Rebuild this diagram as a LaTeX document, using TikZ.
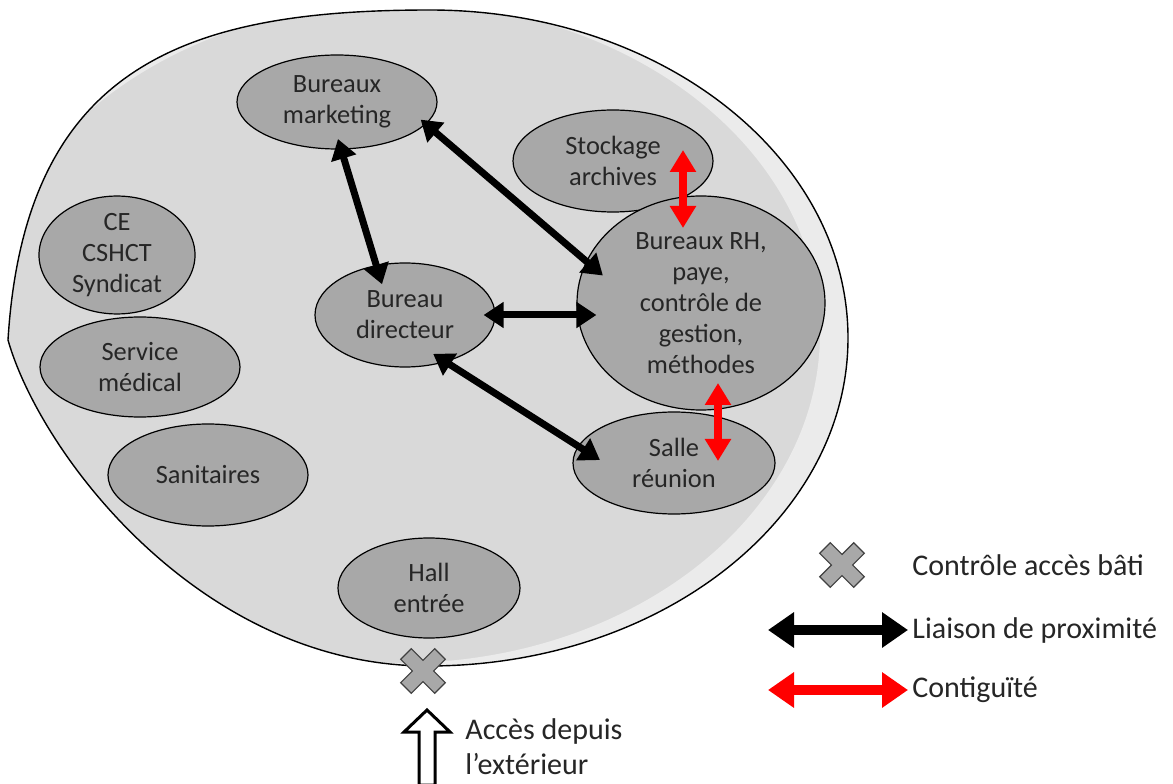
\documentclass[tikz,border=0pt]{standalone}
\usepackage{fontspec}
\setmainfont{Carlito}
\usetikzlibrary{arrows.meta,shapes.geometric}
\definecolor{colorTxt}{HTML}{262626}
\definecolor{colorOut}{HTML}{D9D9D9}
\definecolor{colorBand}{HTML}{EBEBEB}
\definecolor{colorRoom}{HTML}{A8A8A8}
\definecolor{colorLink}{HTML}{000000}
\definecolor{colorContig}{HTML}{FF0000}
\definecolor{bgColor}{HTML}{FFFFFF}

\begin{document}
\begin{tikzpicture}
\tikzset{x=0.5pt,y=0.5pt}
\tikzset{room/.style={ellipse, draw=black, line width=0.6pt, fill=colorRoom, inner sep=0pt, align=center, text=colorTxt, font=\fontsize{13.2}{15.5}\selectfont}}
\tikzset{legtxt/.style={inner sep=1pt, text=colorTxt, font=\fontsize{15}{17.5}\selectfont}}
\tikzset{prox/.style={line width=3.5pt, color=colorLink, >={Triangle[length=10pt,width=12.5pt]}, <->}}
\tikzset{contig/.style={line width=4pt, color=colorContig, >={Triangle[length=11pt,width=12.5pt]}, <->}}
\tikzset{proxleg/.style={line width=5pt, color=colorLink, >={Triangle[length=13pt,width=17pt]}, <->}}
\tikzset{contigleg/.style={line width=5pt, color=colorContig, >={Triangle[length=13pt,width=17pt]}, <->}}
\tikzset{ctrlx/.pic={\filldraw[fill=colorRoom, draw=black!75, line width=0.6pt, rotate=45] (-7.5,-24) -- (7.5,-24) -- (7.5,-7.5) -- (24,-7.5) -- (24,7.5) -- (7.5,7.5) -- (7.5,24) -- (-7.5,24) -- (-7.5,7.5) -- (-24,7.5) -- (-24,-7.5) -- (-7.5,-7.5) -- cycle;}}
\useasboundingbox (0,0) rectangle (1173,783);
\fill[bgColor] (0,0) rectangle (1173,783);
% batiment
\fill[colorOut] (8,443) .. controls (25,720) and (190,773) .. (430,773) .. controls (661,773) and (848,626) .. (848,445) .. controls (848,264) and (660,117) .. (428,117) .. controls (200,117) and (40,330) .. (8,443) -- cycle;
\begin{scope}
\clip (8,443) .. controls (25,720) and (190,773) .. (430,773) .. controls (661,773) and (848,626) .. (848,445) .. controls (848,264) and (660,117) .. (428,117) .. controls (200,117) and (40,330) .. (8,443) -- cycle;
\fill[colorBand, even odd rule] (0,0) rectangle (1173,783) (400,450) ellipse [x radius=420, y radius=330];
\end{scope}
\draw[black, line width=0.7pt] (8,443) .. controls (25,720) and (190,773) .. (430,773) .. controls (661,773) and (848,626) .. (848,445) .. controls (848,264) and (660,117) .. (428,117) .. controls (200,117) and (40,330) .. (8,443) -- cycle;
% pieces
\node[room, minimum width=100pt, minimum height=47pt] (mkt) at (337,681) {Bureaux\\marketing};
\node[room, minimum width=100pt, minimum height=51pt] (sto) at (613,622) {Stockage\\archives};
\node[room, minimum width=78pt, minimum height=50pt] (ce) at (117,528) {CE\\CSHCT\\Syndicat};
\node[room, minimum width=90pt, minimum height=52pt] (dir) at (405,468) {Bureau\\directeur};
\node[room, minimum width=124pt, minimum height=107pt] (rh) at (701,480) {Bureaux RH,\\paye,\\contrôle de\\gestion,\\méthodes};
\node[room, minimum width=100pt, minimum height=50pt] (med) at (140,416) {Service\\médical};
\node[room, minimum width=100pt, minimum height=51pt] (san) at (208,308) {Sanitaires};
\node[room, minimum width=101pt, minimum height=51pt] (salle) at (674,320) {Salle\\réunion};
\node[room, minimum width=91pt, minimum height=50pt] (hall) at (429,195) {Hall\\entrée};
% liaisons
\draw[prox, shorten <=-5.5pt, shorten >=-10pt] (mkt.-85) -- (dir.120);
\draw[prox, shorten <=-3.5pt, shorten >=-11pt] (mkt.-14) -- (rh.160);
\draw[prox, shorten <=-6pt, shorten >=-10pt] (dir.east) -- (dir.east -| rh.west);
\draw[prox, shorten <=-7.5pt, shorten >=-13pt] (dir.-49) -- (salle.170);
\draw[contig] ([shift={(70,11)}]sto.center) -- ([shift={(-18,75)}]rh.center);
\draw[contig] ([shift={(17,-80)}]rh.center) -- ([shift={(44,2)}]salle.center);
% acces
\pic (ctrlIn) at (423,112) {ctrlx};
\coordinate (accTip) at (427,73);
\draw[line width=1.5pt, fill=white] (accTip) -- ++(-23,-22) -- ++(15,0) -- ++(0,-53) -- ++(16,0) -- ++(0,53) -- ++(15,0) -- cycle;
\node[legtxt, anchor=west, align=left] (txtAcc) at (463,36) {Accès depuis\\l’extérieur};
% legende
\pic (ctrlLeg) at (842,218) {ctrlx};
\node[legtxt, anchor=west] (txtCtrl) at (910,218) {Contrôle accès bâti};
\node[legtxt, anchor=west] (txtProx) at (910,153) {Liaison de proximité};
\node[legtxt, anchor=west] (txtContig) at (910,93) {Contiguïté};
\coordinate (lgProx) at (768,153);
\coordinate (lgContig) at (768,93);
\draw[proxleg, shorten >=1pt] (lgProx) -- (txtProx.west);
\draw[contigleg, shorten >=1pt] (lgContig) -- (txtContig.west);
\end{tikzpicture}
\end{document}
